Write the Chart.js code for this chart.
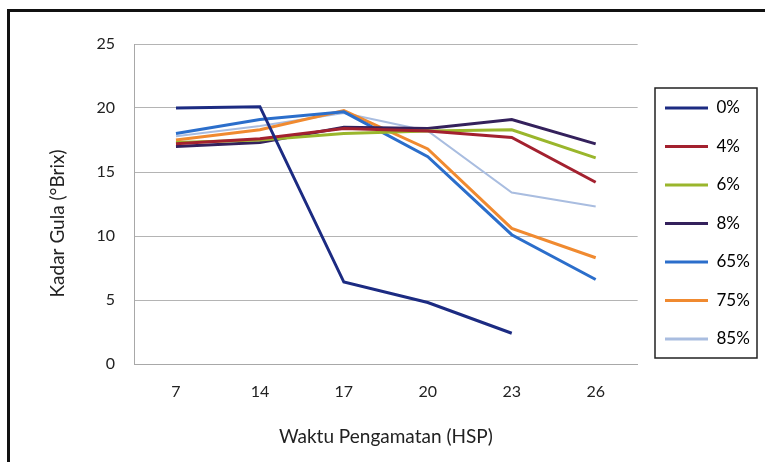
<!DOCTYPE html>
<html>
<head>
<meta charset="utf-8">
<script src="https://cdn.jsdelivr.net/npm/chart.js@4/dist/chart.umd.min.js"></script>
<style>
html,body{margin:0;padding:0;background:#fff;}
#wrap{width:765px;height:462px;position:relative;}
</style>
</head>
<body>
<div id="wrap"><canvas id="c" width="765" height="462"></canvas></div>
<script>
const categories = ['7', '14', '17', '20', '23', '26'];
const seriesNames = ['0%', '4%', '6%', '8%', '65%', '75%', '85%'];
const s0  = [20.0, 20.1, 6.4, 4.8, 2.4, null];
const s4  = [17.2, 17.6, 18.4, 18.2, 17.7, 14.2];
const s6  = [17.3, 17.5, 18.0, 18.2, 18.3, 16.1];
const s8  = [17.0, 17.3, 18.5, 18.4, 19.1, 17.2];
const s65 = [18.0, 19.1, 19.7, 16.2, 10.1, 6.6];
const s75 = [17.5, 18.3, 19.8, 16.8, 10.6, 8.3];
const s85 = [17.8, 18.6, 19.6, 18.2, 13.4, 12.3];
const yTicks = [0, 5, 10, 15, 20, 25];

const colors = ['#1c2b82', '#a3212f', '#9ab62c', '#34215c', '#2b6ecb', '#f08a30', '#a9bde0'];
const widths = [3, 3, 3, 3, 3, 3, 2];
const allSeries = [s0, s4, s6, s8, s65, s75, s85];

const LEG_FONT = 17, LEG_PAD = 21.5;

const frame = {
  id: 'frame',
  afterLayout(chart) {
    const lg = chart.legend;
    if (!lg) return;
    const dx = 665 - (lg.left + LEG_PAD);
    lg.left += dx; lg.right += dx;
    const n = chart.data.datasets.length;
    const colH = n * (LEG_FONT + LEG_PAD);
    const cur = (lg.top + LEG_PAD + lg.bottom - colH) / 2;
    const dy = (108 - LEG_FONT / 2) - cur;
    lg.top += dy; lg.bottom += dy;
  },
  beforeDraw(chart) {
    const ctx = chart.ctx;
    ctx.save();
    ctx.fillStyle = '#fff';
    ctx.fillRect(0, 0, chart.width, chart.height);
    ctx.fillStyle = '#111';
    ctx.fillRect(7, 9, chart.width - 7, 3);
    ctx.fillRect(7, 9, 3, chart.height - 9);
    ctx.restore();
  },
  afterDraw(chart) {
    const lg = chart.legend;
    if (!lg || !lg.legendHitBoxes.length) return;
    const hb = lg.legendHitBoxes;
    const ctx = chart.ctx;
    const x0 = Math.min(...hb.map(h => h.left)) - 10;
    const x1 = 757;
    const y0 = hb[0].top - 11.5;
    const y1 = hb[hb.length - 1].top + hb[hb.length - 1].height + 10.5;
    ctx.save();
    ctx.strokeStyle = '#222';
    ctx.lineWidth = 1.5;
    ctx.strokeRect(x0, y0, x1 - x0, y1 - y0);
    ctx.restore();
  }
};

new Chart(document.getElementById('c'), {
  type: 'line',
  data: {
    labels: categories,
    datasets: allSeries.map((d, i) => ({
      label: seriesNames[i],
      data: d,
      borderColor: colors[i],
      backgroundColor: colors[i],
      borderWidth: widths[i],
      pointRadius: 0,
      tension: 0,
      fill: false
    }))
  },
  options: {
    responsive: false,
    animation: false,
    layout: { padding: { left: 0, right: 11, top: 44, bottom: 0 } },
    plugins: {
      tooltip: { enabled: false },
      legend: {
        position: 'right',
        align: 'center',
        labels: {
          boxWidth: 43,
          boxHeight: 3,
          padding: LEG_PAD,
          color: '#222',
          font: { family: 'Lato', size: LEG_FONT },
          generateLabels(chart) {
            return chart.data.datasets.map((ds, i) => ({
              text: ds.label,
              fillStyle: ds.borderColor,
              strokeStyle: ds.borderColor,
              lineWidth: 0,
              datasetIndex: i,
              hidden: false
            }));
          }
        }
      }
    },
    scales: {
      x: {
        offset: true,
        grid: { display: false, drawTicks: false },
        border: { display: true, color: '#a8a8a8', width: 1 },
        ticks: { color: '#222', padding: 18, font: { family: 'Lato', size: 16 } },
        title: { display: true, text: 'Waktu Pengamatan (HSP)', color: '#222', font: { family: 'Lato', size: 19 }, padding: { top: 0, bottom: 13.6 } },
        afterFit(s) { s.height = 98; }
      },
      y: {
        min: 0,
        max: 25,
        afterBuildTicks(s) { s.ticks = yTicks.map(v => ({ value: v })); },
        grid: { color: '#b4b4b4', lineWidth: 1, drawTicks: false },
        border: { display: true, color: '#a8a8a8', width: 1 },
        ticks: { color: '#222', padding: 19, font: { family: 'Lato', size: 16 } },
        title: { display: true, text: 'Kadar Gula (°Brix)        ', color: '#222', font: { family: 'Lato', size: 19 }, padding: { top: 46.6, bottom: 0 } },
        afterFit(s) { s.width = 134; }
      }
    }
  },
  plugins: [frame]
});
</script>
</body>
</html>
